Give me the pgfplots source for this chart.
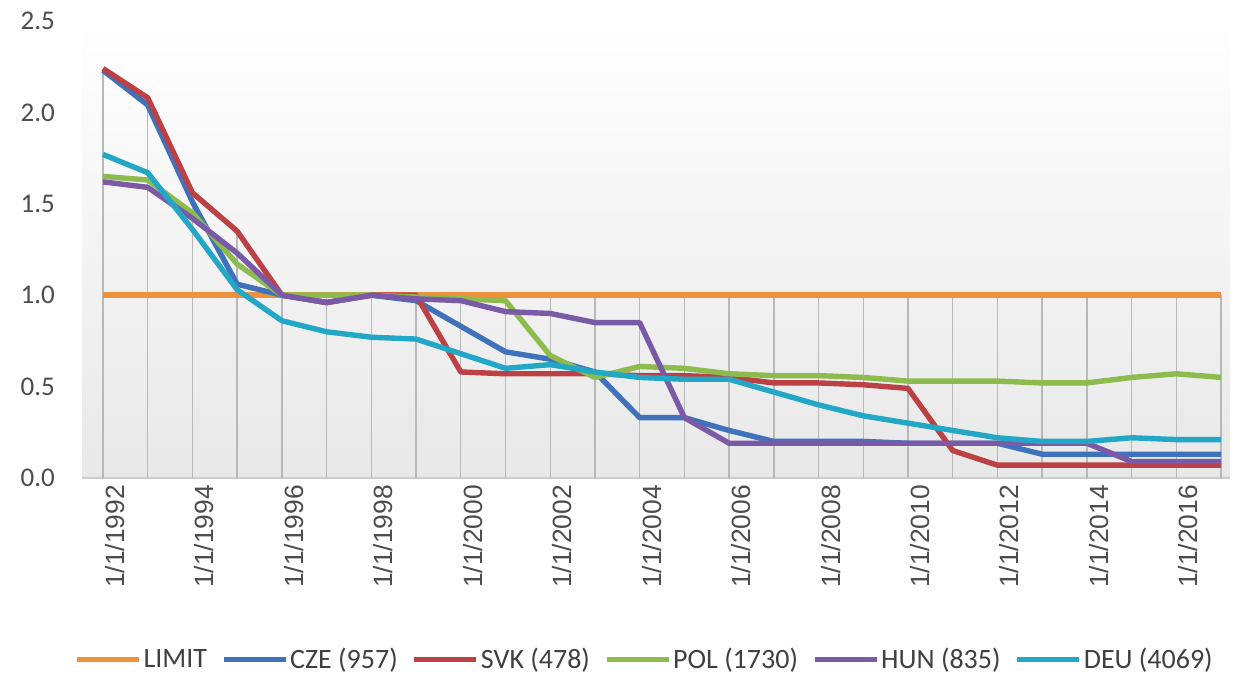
\documentclass[border=0pt]{standalone}
\usepackage{pgfplots}
\pgfplotsset{compat=1.18}
\usepackage{fontspec}
\setmainfont{Carlito}
\newfontfamily\arialfont{Liberation Sans}
\definecolor{cLimit}{HTML}{F0913E}
\definecolor{cCze}{HTML}{3F72BA}
\definecolor{cSvk}{HTML}{BC4144}
\definecolor{cPol}{HTML}{8DBB4E}
\definecolor{cHun}{HTML}{7A5AA6}
\definecolor{cDeu}{HTML}{22A8C6}
\begin{document}
\begin{tikzpicture}
\begin{axis}[
  scale only axis,
  width=574pt, height=228.5pt,
  xmin=1991.53, xmax=2017.2,
  ymin=0, ymax=2.5,
  ytick={0,0.5,1,1.5,2,2.5},
  xtick={1992,1994,1996,1998,2000,2002,2004,2006,2008,2010,2012,2014,2016},
  xticklabels={1/1/1992,1/1/1994,1/1/1996,1/1/1998,1/1/2000,1/1/2002,1/1/2004,1/1/2006,1/1/2008,1/1/2010,1/1/2012,1/1/2014,1/1/2016},
  xticklabel style={rotate=90, anchor=east, font=\arialfont\fontsize{13.2}{15}\selectfont, text=black!70, yshift=-6pt},
  yticklabel style={font=\fontsize{13.5}{16}\selectfont, text=black!70, xshift=-10pt},
  /pgf/number format/.cd, fixed, fixed zerofill, precision=1, assume math mode=true,
  /pgfplots/.cd,
  tick style={draw=none},
  axis x line*=bottom,
  axis y line*=left,
  y axis line style={draw=none},
  x axis line style={draw=black!20, line width=1pt, -},
  axis background/.style={shade, top color=white, middle color=black!3, bottom color=black!9},
  clip=false,
  legend columns=6,
  legend style={draw=none, fill=none, at={(0.49,-0.398)}, anchor=center,
    font=\fontsize{14}{17}\selectfont, text=black!75,
    nodes={inner xsep=1pt},
    /tikz/every even column/.append style={column sep=6pt}},
  legend image code/.code={\draw[#1, line width=2.6pt] (0pt,0pt) -- (31pt,0pt);},
  every axis plot/.append style={line width=2.7pt, line join=round},
]
% drop lines
\addplot[ycomb, forget plot, draw=black!28, line width=0.7pt] coordinates {
(1992,2.24)(1993,2.08)(1994,1.56)(1995,1.35)(1996,1.0)(1997,1.0)(1998,1.0)(1999,1.0)(2000,1.0)(2001,1.0)(2002,1.0)(2003,1.0)(2004,1.0)(2005,1.0)(2006,1.0)(2007,1.0)(2008,1.0)(2009,1.0)(2010,1.0)(2011,1.0)(2012,1.0)(2013,1.0)(2014,1.0)(2015,1.0)(2016,1.0)(2017,1.0)};
\addplot[cLimit] coordinates {
(1992,1.0)(1993,1.0)(1994,1.0)(1995,1.0)(1996,1.0)(1997,1.0)(1998,1.0)(1999,1.0)(2000,1.0)(2001,1.0)(2002,1.0)(2003,1.0)(2004,1.0)(2005,1.0)(2006,1.0)(2007,1.0)(2008,1.0)(2009,1.0)(2010,1.0)(2011,1.0)(2012,1.0)(2013,1.0)(2014,1.0)(2015,1.0)(2016,1.0)(2017,1.0)};
\addlegendentry{LIMIT}
\addplot[cCze] coordinates {
(1992,2.23)(1993,2.04)(1994,1.51)(1995,1.06)(1996,1.00)(1997,0.96)(1998,1.00)(1999,0.97)(2000,0.83)(2001,0.69)(2002,0.65)(2003,0.58)(2004,0.33)(2005,0.33)(2006,0.26)(2007,0.20)(2008,0.20)(2009,0.20)(2010,0.19)(2011,0.19)(2012,0.19)(2013,0.13)(2014,0.13)(2015,0.13)(2016,0.13)(2017,0.13)};
\addlegendentry{CZE (957)}
\addplot[cSvk] coordinates {
(1992,2.24)(1993,2.08)(1994,1.56)(1995,1.35)(1996,1.00)(1997,0.96)(1998,1.00)(1999,1.00)(2000,0.58)(2001,0.57)(2002,0.57)(2003,0.57)(2004,0.56)(2005,0.56)(2006,0.55)(2007,0.52)(2008,0.52)(2009,0.51)(2010,0.49)(2011,0.15)(2012,0.07)(2013,0.07)(2014,0.07)(2015,0.07)(2016,0.07)(2017,0.07)};
\addlegendentry{SVK (478)}
\addplot[cPol] coordinates {
(1992,1.65)(1993,1.63)(1994,1.45)(1995,1.17)(1996,1.00)(1997,1.00)(1998,1.00)(1999,0.99)(2000,0.98)(2001,0.97)(2002,0.67)(2003,0.55)(2004,0.61)(2005,0.60)(2006,0.57)(2007,0.56)(2008,0.56)(2009,0.55)(2010,0.53)(2011,0.53)(2012,0.53)(2013,0.52)(2014,0.52)(2015,0.55)(2016,0.57)(2017,0.55)};
\addlegendentry{POL (1730)}
\addplot[cHun] coordinates {
(1992,1.62)(1993,1.59)(1994,1.42)(1995,1.23)(1996,1.00)(1997,0.96)(1998,1.00)(1999,0.98)(2000,0.97)(2001,0.91)(2002,0.90)(2003,0.85)(2004,0.85)(2005,0.33)(2006,0.19)(2007,0.19)(2008,0.19)(2009,0.19)(2010,0.19)(2011,0.19)(2012,0.19)(2013,0.19)(2014,0.19)(2015,0.09)(2016,0.09)(2017,0.09)};
\addlegendentry{HUN (835)}
\addplot[cDeu] coordinates {
(1992,1.77)(1993,1.67)(1994,1.36)(1995,1.03)(1996,0.86)(1997,0.80)(1998,0.77)(1999,0.76)(2000,0.68)(2001,0.60)(2002,0.62)(2003,0.58)(2004,0.55)(2005,0.54)(2006,0.54)(2007,0.47)(2008,0.40)(2009,0.34)(2010,0.30)(2011,0.26)(2012,0.22)(2013,0.20)(2014,0.20)(2015,0.22)(2016,0.21)(2017,0.21)};
\addlegendentry{DEU (4069)}
\end{axis}
\path ([shift={(-41pt,-104.5pt)}]current axis.south west) rectangle ([shift={(1.5pt,10.5pt)}]current axis.north east);
\end{tikzpicture}
\end{document}
